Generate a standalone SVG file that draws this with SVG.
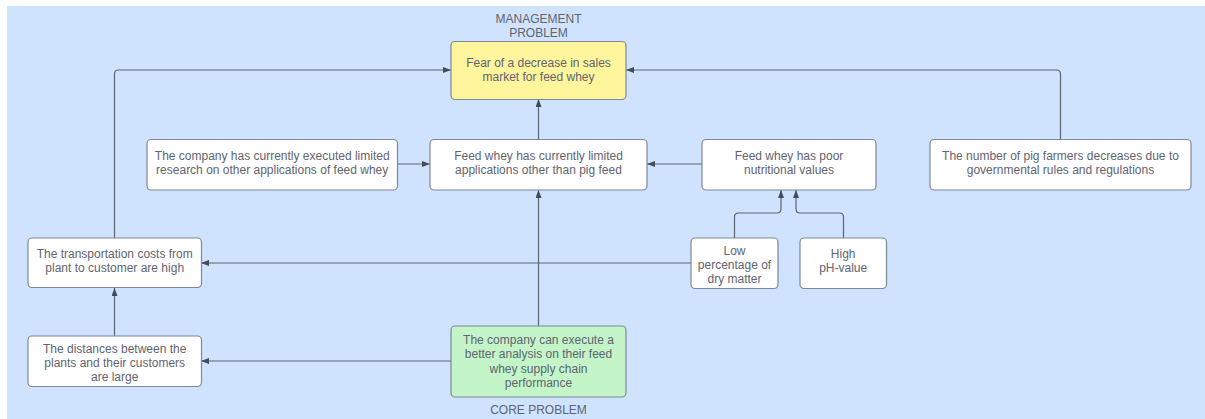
<svg xmlns="http://www.w3.org/2000/svg" width="1205" height="419" viewBox="0 0 1205 419">
<defs>
<style>
.n{fill:#ffffff;stroke:#7f8896;stroke-width:1.2}
.t{font-family:"Liberation Sans",Arial,sans-serif;font-size:12px;fill:#5f6470;text-anchor:middle;dominant-baseline:central}
.c{fill:none;stroke:#5d6472;stroke-width:1.2}
</style>
<marker id="ah" markerUnits="userSpaceOnUse" markerWidth="10" markerHeight="8" refX="8" refY="3" orient="auto">
<path d="M0,0 L8,3 L0,6 z" fill="#464c57"/>
</marker>
</defs>
<rect x="0" y="0" width="1205" height="419" fill="#ffffff"/>
<rect x="7" y="6" width="1198" height="413" fill="#cfe3fe"/>

<g id="connectors">
<path class="c" d="M538.5,139 V99" marker-end="url(#ah)"/>
<path class="c" d="M397,164 H430" marker-end="url(#ah)"/>
<path class="c" d="M702,164 H647" marker-end="url(#ah)"/>
<path class="c" d="M538.5,326 V190" marker-end="url(#ah)"/>
<path class="c" d="M451,361 H201" marker-end="url(#ah)"/>
<path class="c" d="M114.5,336 V288" marker-end="url(#ah)"/>
<path class="c" d="M114.5,238 V74 Q114.5,70 118.5,70 H451" marker-end="url(#ah)"/>
<path class="c" d="M1060.5,139 V74 Q1060.5,70 1056.5,70 H626" marker-end="url(#ah)"/>
<path class="c" d="M691,263 H201" marker-end="url(#ah)"/>
<path class="c" d="M734.5,238 V217 Q734.5,213 738.5,213 H777 Q781,213 781,209 V190" marker-end="url(#ah)"/>
<path class="c" d="M843.5,238 V217 Q843.5,213 839.5,213 H800 Q796,213 796,209 V190" marker-end="url(#ah)"/>
</g>

<g id="label-management">
<text class="t" x="538.5" y="18.5">MANAGEMENT</text>
<text class="t" x="538.5" y="32.5">PROBLEM</text>
</g>
<g id="label-core">
<text class="t" x="538.5" y="409.5">CORE PROBLEM</text>
</g>

<g id="node-management">
<rect x="451" y="41.5" width="175" height="58" rx="4" fill="#fff59d" stroke="#7f8896" stroke-width="1.2"/>
<text class="t" x="538.5" y="62.5">Fear of a decrease in sales</text>
<text class="t" x="538.5" y="76.8">market for feed whey</text>
</g>

<g id="node-research">
<rect class="n" x="147" y="139.5" width="250.5" height="50.5" rx="4"/>
<text class="t" x="272.2" y="155.8">The company has currently executed limited</text>
<text class="t" x="272.2" y="170.1">research on other applications of feed whey</text>
</g>

<g id="node-applications">
<rect class="n" x="430" y="139.5" width="217" height="50.5" rx="4"/>
<text class="t" x="538.5" y="155.8">Feed whey has currently limited</text>
<text class="t" x="538.5" y="170.1">applications other than pig feed</text>
</g>

<g id="node-nutrition">
<rect class="n" x="702" y="139.5" width="174" height="50.5" rx="4"/>
<text class="t" x="789" y="155.8">Feed whey has poor</text>
<text class="t" x="789" y="170.1">nutritional values</text>
</g>

<g id="node-farmers">
<rect class="n" x="930" y="139.5" width="261" height="50.5" rx="4"/>
<text class="t" x="1060.5" y="155.8">The number of pig farmers decreases due to</text>
<text class="t" x="1060.5" y="170.1">governmental rules and regulations</text>
</g>

<g id="node-transport">
<rect class="n" x="28" y="238" width="173.5" height="49.5" rx="4"/>
<text class="t" x="114.7" y="253.8">The transportation costs from</text>
<text class="t" x="114.7" y="268">plant to customer are high</text>
</g>

<g id="node-distances">
<rect class="n" x="28" y="336" width="173.5" height="50.5" rx="4"/>
<text class="t" x="114.7" y="348.8">The distances between the</text>
<text class="t" x="114.7" y="363">plants and their customers</text>
<text class="t" x="114.7" y="377.3">are large</text>
</g>

<g id="node-core">
<rect x="451" y="326" width="175" height="71" rx="4" fill="#c3f5c8" stroke="#7f8896" stroke-width="1.2"/>
<text class="t" x="538.5" y="340">The company can execute a</text>
<text class="t" x="538.5" y="354.3">better analysis on their feed</text>
<text class="t" x="538.5" y="368.6">whey supply chain</text>
<text class="t" x="538.5" y="382.9">performance</text>
</g>

<g id="node-drymatter">
<rect class="n" x="691" y="238" width="87" height="50.5" rx="4"/>
<text class="t" x="734.5" y="250.8">Low</text>
<text class="t" x="734.5" y="265">percentage of</text>
<text class="t" x="734.5" y="279.2">dry matter</text>
</g>

<g id="node-ph">
<rect class="n" x="800" y="238" width="86.5" height="50.5" rx="4"/>
<text class="t" x="843.2" y="253.5">High</text>
<text class="t" x="843.2" y="268">pH-value</text>
</g>
</svg>
